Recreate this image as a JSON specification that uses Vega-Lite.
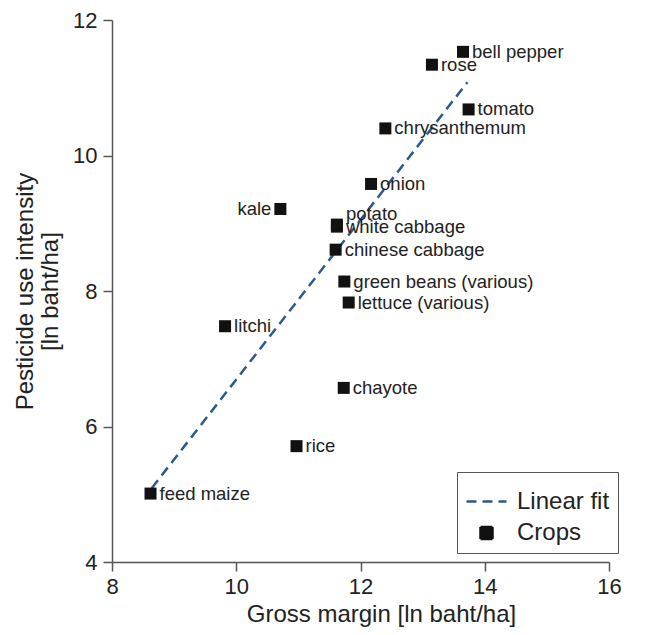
{
  "$schema": "https://vega.github.io/schema/vega-lite/v6.json",
  "width": 497,
  "height": 542,
  "autosize": "none",
  "padding": {"left": 112, "top": 20, "right": 40, "bottom": 73},
  "background": "white",
  "config": {
    "view": {"stroke": null},
    "font": "Liberation Sans",
    "axis": {
      "grid": false,
      "domainColor": "#555555",
      "domainWidth": 1.5,
      "tickColor": "#555555",
      "tickWidth": 1.5,
      "tickSize": 9,
      "labelFont": "Liberation Sans",
      "labelFontSize": 22,
      "labelColor": "#222222",
      "labelFlush": false,
      "titleFont": "Liberation Sans",
      "titleFontSize": 24,
      "titleFontWeight": "normal",
      "titleColor": "#222222"
    },
    "legend": {
      "orient": "none",
      "legendX": 345,
      "legendY": 452,
      "strokeColor": "#555555",
      "padding": 8,
      "labelFont": "Liberation Sans",
      "labelFontSize": 24,
      "labelColor": "#222222",
      "labelOffset": 9,
      "rowPadding": 7,
      "symbolStrokeWidth": 2.5
    }
  },
  "datasets": {
    "crops": [
      {"crop": "bell pepper", "x": 13.65, "y": 11.53, "series": "Crops"},
      {"crop": "rose", "x": 13.15, "y": 11.34, "series": "Crops"},
      {"crop": "tomato", "x": 13.74, "y": 10.68, "series": "Crops"},
      {"crop": "chrysanthemum", "x": 12.40, "y": 10.40, "series": "Crops"},
      {"crop": "onion", "x": 12.17, "y": 9.58, "series": "Crops"},
      {"crop": "kale", "x": 10.71, "y": 9.21, "series": "Crops"},
      {"crop": "potato", "x": 11.62, "y": 8.98, "series": "Crops"},
      {"crop": "white cabbage", "x": 11.62, "y": 8.95, "series": "Crops"},
      {"crop": "chinese cabbage", "x": 11.60, "y": 8.61, "series": "Crops"},
      {"crop": "green beans (various)", "x": 11.74, "y": 8.14, "series": "Crops"},
      {"crop": "lettuce (various)", "x": 11.81, "y": 7.83, "series": "Crops"},
      {"crop": "litchi", "x": 9.82, "y": 7.48, "series": "Crops"},
      {"crop": "chayote", "x": 11.73, "y": 6.57, "series": "Crops"},
      {"crop": "rice", "x": 10.97, "y": 5.71, "series": "Crops"},
      {"crop": "feed maize", "x": 8.62, "y": 5.01, "series": "Crops"}
    ],
    "fit": [
      {"x": 8.64, "y": 5.09, "series": "Linear fit"},
      {"x": 13.72, "y": 11.08, "series": "Linear fit"}
    ]
  },
  "encoding": {
    "x": {
      "field": "x",
      "type": "quantitative",
      "scale": {"domain": [8, 16], "nice": false, "zero": false},
      "axis": {
        "values": [8, 10, 12, 14, 16],
        "title": "Gross margin [ln baht/ha]",
        "titleX": 269,
        "labelPadding": 5,
        "titlePadding": 5
      }
    },
    "y": {
      "field": "y",
      "type": "quantitative",
      "scale": {"domain": [4, 12], "nice": false, "zero": false},
      "axis": {
        "values": [4, 6, 8, 10, 12],
        "title": ["Pesticide use intensity", "[ln baht/ha]"],
        "labelPadding": 6,
        "titlePadding": 10,
        "titleLineHeight": 25
      }
    }
  },
  "layer": [
    {
      "data": {"name": "fit"},
      "mark": {"type": "line", "strokeWidth": 2.5},
      "encoding": {
        "color": {
          "field": "series",
          "type": "nominal",
          "scale": {"domain": ["Linear fit", "Crops"], "range": ["#2d5a8c", "#111111"]},
          "legend": {"title": null}
        },
        "strokeDash": {
          "field": "series",
          "type": "nominal",
          "scale": {"domain": ["Linear fit", "Crops"], "range": [[10, 6], [1, 0]]},
          "legend": {"title": null}
        }
      }
    },
    {
      "data": {"name": "crops"},
      "mark": {"type": "point", "filled": true, "opacity": 1},
      "encoding": {
        "color": {
          "field": "series",
          "type": "nominal",
          "scale": {"domain": ["Linear fit", "Crops"], "range": ["#2d5a8c", "#111111"]},
          "legend": {"title": null}
        },
        "shape": {
          "field": "series",
          "type": "nominal",
          "scale": {"domain": ["Linear fit", "Crops"], "range": ["stroke", "square"]},
          "legend": {"title": null}
        },
        "size": {
          "field": "series",
          "type": "nominal",
          "scale": {"domain": ["Linear fit", "Crops"], "range": [1600, 144]},
          "legend": {"title": null}
        }
      }
    },
    {
      "data": {"name": "crops"},
      "transform": [{"filter": "datum.crop !== 'kale' && datum.crop !== 'potato'"}],
      "mark": {"type": "text", "align": "left", "baseline": "middle", "dx": 9, "fontSize": 18.5, "color": "#222222", "font": "Liberation Sans"},
      "encoding": {"text": {"field": "crop"}}
    },
    {
      "data": {"name": "crops"},
      "transform": [{"filter": "datum.crop === 'kale'"}],
      "mark": {"type": "text", "align": "right", "baseline": "middle", "dx": -9, "fontSize": 18.5, "color": "#222222", "font": "Liberation Sans"},
      "encoding": {"text": {"field": "crop"}}
    },
    {
      "data": {"name": "crops"},
      "transform": [{"filter": "datum.crop === 'potato'"}],
      "mark": {"type": "text", "align": "left", "baseline": "middle", "dx": 9, "dy": -11, "fontSize": 18.5, "color": "#222222", "font": "Liberation Sans"},
      "encoding": {"text": {"field": "crop"}}
    }
  ]
}
